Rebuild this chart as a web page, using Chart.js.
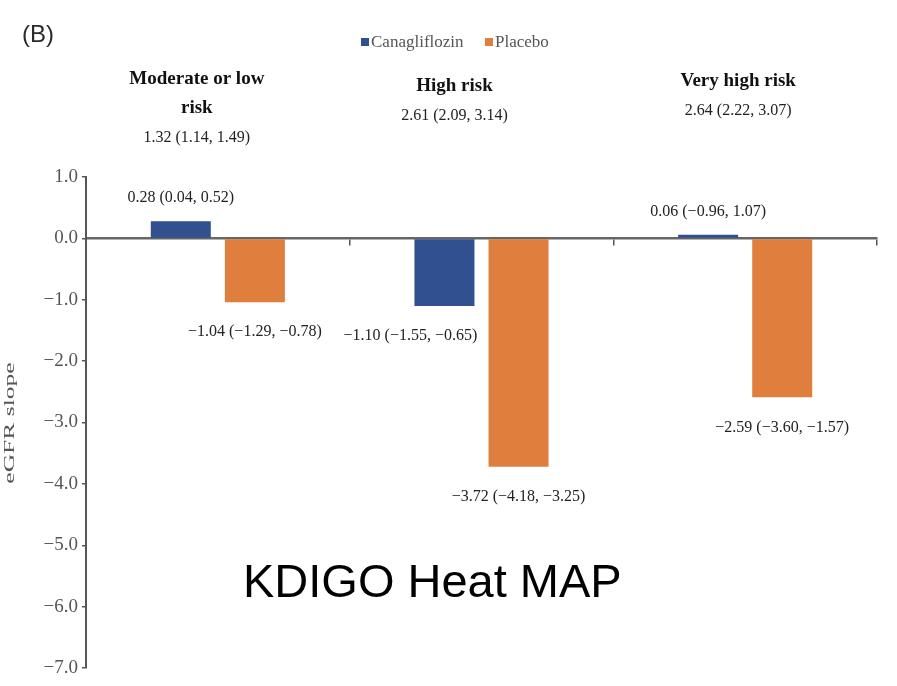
<!DOCTYPE html>
<html>
<head>
<meta charset="utf-8">
<script src="https://cdn.jsdelivr.net/npm/chart.js@4.4.1/dist/chart.umd.min.js"></script>
<style>
  html, body { margin: 0; padding: 0; background: #fff; }
  #wrap { width: 897px; height: 686px; position: relative; }
</style>
</head>
<body>
<div id="wrap"><canvas id="c" width="897" height="686"></canvas></div>
<script>
// eGFR slope by KDIGO risk group
const categories = ['Moderate or low risk', 'High risk', 'Very high risk'];
const headerLines = [['Moderate or low', 'risk'], ['High risk'], ['Very high risk']];

const canaValues = [0.28, -1.10, 0.06];
const canaLower  = [0.04, -1.55, -0.96];
const canaUpper  = [0.52, -0.65, 1.07];

const placeboValues = [-1.04, -3.72, -2.59];
const placeboLower  = [-1.29, -4.18, -3.60];
const placeboUpper  = [-0.78, -3.25, -1.57];

// between-group difference shown under each header
const diffValues = [1.32, 2.61, 2.64];
const diffLower  = [1.14, 2.09, 2.22];
const diffUpper  = [1.49, 3.14, 3.07];

const yTickValues = [1, 0, -1, -2, -3, -4, -5, -6, -7];

const MINUS = '\u2212';
function fmt(v, d) {
  const s = Math.abs(v).toFixed(d);
  return (v < 0 && Number(s) !== 0 ? MINUS : '') + s;
}
function withCI(v, lo, hi) {
  return fmt(v, 2) + ' (' + fmt(lo, 2) + ', ' + fmt(hi, 2) + ')';
}

const SERIF = '"Liberation Serif", "Times New Roman", serif';
const SANS = '"Liberation Sans", Arial, sans-serif';

const annotations = {
  id: 'annotations',
  afterDraw(chart, args, opts) {
    const ctx = chart.ctx;
    const xs = chart.scales.x;
    ctx.save();

    // panel tag
    ctx.fillStyle = '#2a2a2a';
    ctx.font = '24px ' + SANS;
    ctx.textAlign = 'left';
    ctx.textBaseline = 'middle';
    ctx.fillText('(B)', 22, 35);

    // legend
    ctx.font = '17px ' + SERIF;
    chart.data.datasets.forEach((ds, i) => {
      const lx = opts.legendX[i];
      ctx.fillStyle = ds.backgroundColor;
      ctx.fillRect(lx, 38, 8, 8);
      ctx.fillStyle = '#555';
      ctx.fillText(ds.label, lx + 10, 43);
    });

    // group headers with difference and CI
    ctx.textAlign = 'center';
    categories.forEach((c, j) => {
      const cx = xs.getPixelForValue(j) + opts.headerShift[j];
      let y = opts.headerTop[j];
      ctx.fillStyle = '#111';
      ctx.font = 'bold 19px ' + SERIF;
      headerLines[j].forEach(line => { ctx.fillText(line, cx, y); y += 29; });
      ctx.fillStyle = '#222';
      ctx.font = '16px ' + SERIF;
      ctx.fillText(withCI(diffValues[j], diffLower[j], diffUpper[j]), cx, y + 1);
    });

    // bar value labels
    const series = [
      [canaValues, canaLower, canaUpper],
      [placeboValues, placeboLower, placeboUpper]
    ];
    ctx.fillStyle = '#222';
    ctx.font = '16px ' + SERIF;
    series.forEach((s, i) => {
      const meta = chart.getDatasetMeta(i);
      meta.data.forEach((bar, j) => {
        const v = s[0][j];
        const y = v >= 0 ? bar.y - 23 : bar.y + 30;
        ctx.fillText(withCI(v, s[1][j], s[2][j]), bar.x + opts.labelShift[i][j], y);
      });
    });

    // y axis title
    ctx.save();
    ctx.translate(10, 423);
    ctx.rotate(-Math.PI / 2);
    ctx.scale(1.42, 0.8);
    ctx.fillStyle = '#555';
    ctx.font = '18px ' + SERIF;
    ctx.fillText('eGFR slope', 0, 0);
    ctx.restore();

    // overlay caption
    ctx.fillStyle = '#000';
    ctx.font = '47px ' + SANS;
    ctx.textAlign = 'left';
    ctx.textBaseline = 'alphabetic';
    ctx.fillText('KDIGO Heat MAP', 243, 597);

    ctx.restore();
  }
};

new Chart(document.getElementById('c'), {
  type: 'bar',
  data: {
    labels: categories,
    datasets: [
      { label: 'Canagliflozin', data: canaValues, backgroundColor: '#31508F' },
      { label: 'Placebo', data: placeboValues, backgroundColor: '#E07E3E' }
    ]
  },
  options: {
    responsive: false,
    animation: false,
    devicePixelRatio: 1,
    layout: { padding: { left: 26, right: 20, top: 177, bottom: 18 } },
    datasets: { bar: { categoryPercentage: 0.562, barPercentage: 0.81 } },
    plugins: {
      legend: { display: false },
      tooltip: { enabled: false },
      annotations: {
        legendX: [361, 485],
        headerShift: [-21, -27, -7],
        headerTop: [79, 86, 81],
        labelShift: [[0, -34, 0], [0, 0, 0]]
      }
    },
    scales: {
      x: {
        position: { y: 0 },
        afterFit: s => { s.height = 0; },
        ticks: { display: false },
        grid: { offset: true, drawOnChartArea: false, drawTicks: true, tickLength: 6, color: '#555', lineWidth: 1.5 },
        border: { display: true, color: '#666', width: 2.5 }
      },
      y: {
        min: -7,
        max: 1,
        afterFit: s => { s.width = 60; },
        afterBuildTicks: s => { s.ticks = yTickValues.map(v => ({ value: v })); },
        ticks: {
          color: '#555',
          padding: 4,
          font: { family: SERIF, size: 19 },
          callback: v => fmt(v, 1)
        },
        grid: { drawOnChartArea: false, drawTicks: true, tickLength: 4, color: '#555', lineWidth: 1.5 },
        border: { display: true, color: '#555', width: 2 }
      }
    }
  },
  plugins: [annotations]
});
</script>
</body>
</html>
